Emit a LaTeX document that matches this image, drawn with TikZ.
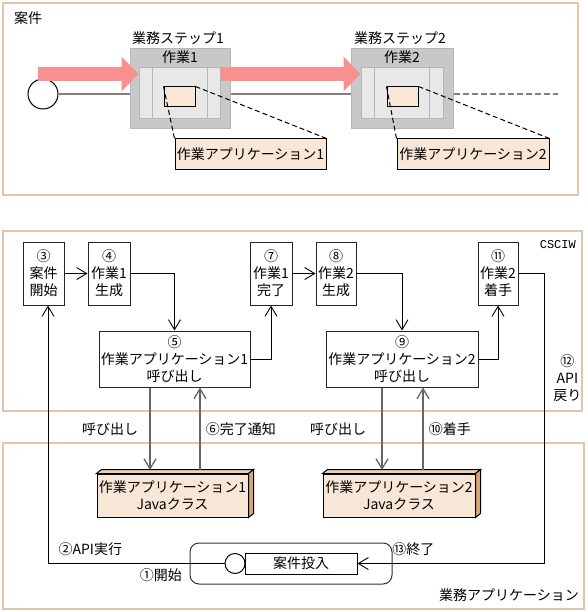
\documentclass[tikz,border=0pt]{standalone}
\usepackage{fontspec}
\setmainfont{Noto Sans CJK JP}
\newfontfamily\monofont{Liberation Mono}
\usetikzlibrary{arrows.meta}

\definecolor{frametan}{RGB}{226,198,170}
\definecolor{flowpink}{RGB}{248,144,144}
\definecolor{stepgray}{RGB}{200,200,200}
\definecolor{stepline}{RGB}{182,182,182}
\definecolor{innergray}{RGB}{232,232,232}
\definecolor{apptan}{RGB}{248,230,214}
\definecolor{javatop}{RGB}{236,206,176}
\definecolor{javaside}{RGB}{214,166,120}

\tikzstyle{frame} = [draw=frametan, line width=1.3pt]
\tikzstyle{stepbox} = [rectangle, draw=stepline, fill=stepgray, line width=1pt]
\tikzstyle{innerbox} = [rectangle, draw=stepline, fill=innergray, line width=1pt]
\tikzstyle{appbox} = [rectangle, draw=black, fill=apptan, line width=1pt, inner sep=0pt]
\tikzstyle{process} = [rectangle, draw=black!85, line width=1pt, align=center, inner sep=0pt, minimum height=63pt]
\tikzstyle{javabox} = [rectangle, draw=black, fill=apptan, line width=1pt, align=center, inner sep=0pt, minimum width=151pt, minimum height=43pt]
\tikzstyle{note} = [inner sep=1pt]
\tikzstyle{track} = [draw=black!50, line width=1.5pt]
\tikzstyle{flowarrow} = [draw=flowpink, line width=14pt, -{Triangle[length=17pt,width=34pt]}]
\tikzstyle{arrow} = [line width=0.9pt, -{Straight Barb[length=10pt,width=12pt]}]
\tikzstyle{callline} = [arrow, draw=black!60, line width=1.3pt]

\begin{document}
\begin{tikzpicture}[x=1pt, y=-1pt, font=\fontsize{14}{17}\selectfont]
    \useasboundingbox (0,0) rectangle (587,612);

    % Frames
    \draw[frame] (3,3) rectangle (578,195);
    \draw[frame] (3,231) rectangle (582,411);
    \draw[frame] (3,443) rectangle (584,609);
    \node (case) [note, anchor=west] at (13,18) {案件};
    \node (csciw) [note, anchor=east, font=\monofont\fontsize{12}{14}\selectfont] at (577,245) {CSCIW};
    \node (bizapp) [note, anchor=east] at (580,595) {業務アプリケーション};

    % Business steps
    \node (circ0) [circle, draw, fill=white, minimum size=30pt, inner sep=0pt, line width=1pt] at (43,94) {};
    \node (step1) [stepbox, minimum width=100pt, minimum height=80pt] at (180,89) {};
    \node (step2) [stepbox, minimum width=102pt, minimum height=80pt] at (402,89) {};
    \node (step1name) [note] at (178,38) {業務ステップ1};
    \node (step2name) [note] at (400,38) {業務ステップ2};
    \node (task1) [note] at (180,57) {作業1};
    \node (task2) [note] at (402,57) {作業2};
    \coordinate (tail) at (558,94);

    \draw[track] (circ0.east) -- (circ0.east -| step1.west);
    \draw[track] (circ0.east -| step1.east) -- (circ0.east -| step2.west);
    \draw[track, dash pattern=on 6pt off 3pt] (circ0.east -| step2.east) -- (tail);

    \node (in1) [innerbox, minimum width=81pt, minimum height=51pt] at (179.5,93.5) {};
    \node (in2) [innerbox, minimum width=82pt, minimum height=51pt] at (402,93.5) {};
    \draw[stepline, line width=1pt] ([xshift=14pt]in1.north west) -- ([xshift=14pt]in1.south west);
    \draw[stepline, line width=1pt] ([xshift=-13pt]in1.north east) -- ([xshift=-13pt]in1.south east);
    \draw[stepline, line width=1pt] ([xshift=14pt]in2.north west) -- ([xshift=14pt]in2.south west);
    \draw[stepline, line width=1pt] ([xshift=-14pt]in2.north east) -- ([xshift=-14pt]in2.south east);

    \draw[flowarrow] (38,74) -- (in1.west |- 0,74);
    \draw[flowarrow] (in1.east |- 0,74) -- (in2.west |- 0,74);

    \node (wk1) [appbox, minimum width=31pt, minimum height=20pt] at (179.5,97) {};
    \node (wk2) [appbox, minimum width=31pt, minimum height=20pt] at (402.5,97) {};
    \node (app1) [appbox, minimum width=151pt, minimum height=31pt] at (250.5,154.5) {作業アプリケーション1};
    \node (app2) [appbox, minimum width=152pt, minimum height=31pt] at (473,154.5) {作業アプリケーション2};

    \draw[dashed, dash pattern=on 5pt off 3pt, line width=1pt] (wk1.north west) -- (app1.north west);
    \draw[dashed, dash pattern=on 5pt off 3pt, line width=1pt] (wk1.north east) -- (app1.north east);
    \draw[dashed, dash pattern=on 5pt off 3pt, line width=1pt] (wk2.north west) -- (app2.north west);
    \draw[dashed, dash pattern=on 5pt off 3pt, line width=1pt] (wk2.north east) -- (app2.north east);

    % CSCIW nodes
    \node (start) [process, minimum width=41pt] at (43.5,273.5) {③\\案件\\開始};
    \node (gen1) [process, minimum width=42pt] at (109,273.5) {④\\作業1\\生成};
    \node (done1) [process, minimum width=42pt] at (271,273.5) {⑦\\作業1\\完了};
    \node (gen2) [process, minimum width=40pt] at (336,273.5) {⑧\\作業2\\生成};
    \node (take2) [process, minimum width=40pt] at (498,273.5) {⑪\\作業2\\着手};
    \node (call1) [process, minimum width=151pt, minimum height=56pt] at (174.5,359) {⑤\\作業アプリケーション1\\呼び出し};
    \node (call2) [process, minimum width=152pt, minimum height=56pt] at (402,359) {⑨\\作業アプリケーション2\\呼び出し};

    % Application nodes
    \node (java1) [javabox] at (172.5,495.5) {作業アプリケーション1\\Javaクラス};
    \node (java2) [javabox, minimum width=152pt] at (399,495.5) {作業アプリケーション2\\Javaクラス};
    \filldraw[fill=javatop, line width=1pt] (java1.north west) -- ([shift={(5,-4)}]java1.north west) -- ([shift={(5,-4)}]java1.north east) -- (java1.north east) -- cycle;
    \filldraw[fill=javaside, line width=1pt] (java1.north east) -- ([shift={(5,-4)}]java1.north east) -- ([shift={(5,-4)}]java1.south east) -- (java1.south east) -- cycle;
    \filldraw[fill=javatop, line width=1pt] (java2.north west) -- ([shift={(5,-4)}]java2.north west) -- ([shift={(5,-4)}]java2.north east) -- (java2.north east) -- cycle;
    \filldraw[fill=javaside, line width=1pt] (java2.north east) -- ([shift={(5,-4)}]java2.north east) -- ([shift={(5,-4)}]java2.south east) -- (java2.south east) -- cycle;

    \node (flow) [draw=black!80, rounded corners=9pt, minimum width=202pt, minimum height=41pt, line width=1pt] at (291,563.5) {};
    \node (input) [rectangle, draw, fill=white, line width=1pt, minimum width=112pt, minimum height=21pt, inner sep=0pt] at (301,563.5) {案件投入};
    \node (circ1) [circle, draw, fill=white, minimum size=20pt, inner sep=0pt, line width=1pt] at (235,563.5) {};

    \coordinate (j1in) at (150,470);
    \coordinate (j1out) at (200,470);
    \coordinate (j2in) at (382,470);
    \coordinate (j2out) at (423,470);
    \coordinate (ret) at (544,563.5);

    % Arrows
    \draw[arrow] (start.east) -- (gen1.west);
    \draw[arrow] (gen1.east) -| (call1.north);
    \draw[arrow] (call1.east) -| (done1.south);
    \draw[arrow] (done1.east) -- (gen2.west);
    \draw[arrow] (gen2.east) -| (call2.north);
    \draw[arrow] (call2.east) -| (take2.south);

    \draw[callline] (call1.south -| j1in) -- (j1in) node[midway, left=8pt] {呼び出し};
    \draw[callline] (j1out) -- (call1.south -| j1out) node[midway, right=2pt] {⑥完了通知};
    \draw[callline] (call2.south -| j2in) -- (j2in) node[midway, left=12pt] {呼び出し};
    \draw[callline] (j2out) -- (call2.south -| j2out) node[midway, right=2pt] {⑩着手};

    \draw[arrow] (circ1.west) -| ([xshift=4.5pt]start.south)
        node[note, pos=0.38, above=6pt] {②API実行}
        node[note, pos=0.18, below=4pt] {①開始};
    \draw[arrow] (take2.east) -| (ret)
        node[note, pos=0.68, right=8pt, align=center] {⑫\\API\\戻り}
        -- (input.east) node[note, pos=0.7, above=6pt] {⑬終了};

\end{tikzpicture}
\end{document}
